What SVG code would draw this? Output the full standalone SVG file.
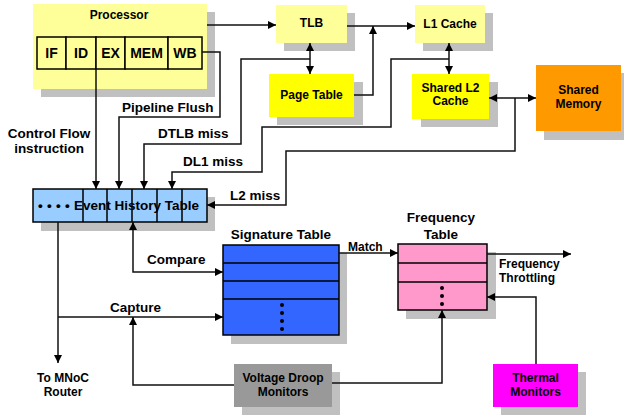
<svg xmlns="http://www.w3.org/2000/svg" width="624" height="417" viewBox="0 0 624 417">
<defs>
<marker id="ah" viewBox="0 0 10 10" refX="10" refY="5" markerWidth="9" markerHeight="8" markerUnits="userSpaceOnUse" orient="auto-start-reverse">
<path d="M0,0 L10,5 L0,10 z" fill="#000"/>
</marker>
<style>
text{font-family:"Liberation Sans",Arial,sans-serif;font-weight:bold;fill:#000}
.n{font-size:12px;text-anchor:middle}
.ns{font-size:12px}
.l{font-size:13.5px}
.lm{font-size:13.5px;text-anchor:middle}
.s{font-size:14px;text-anchor:middle}
.sh{fill:#c0c0c0}
.b{stroke:#000;stroke-width:1.5}
.c{fill:none;stroke:#111;stroke-width:1.5}
</style>
</defs>
<rect width="624" height="417" fill="#fff"/>

<g id="processor">
<rect class="sh" x="41" y="12" width="174" height="85"/>
<rect x="33" y="4" width="174" height="85" fill="#ffff99"/>
<text class="n" x="119" y="19">Processor</text>
<rect class="b" x="37" y="37" width="29" height="32" fill="#ffff99"/>
<rect class="b" x="66" y="37" width="30" height="32" fill="#ffff99"/>
<rect class="b" x="96" y="37" width="29" height="32" fill="#ffff99"/>
<rect class="b" x="125" y="37" width="43" height="32" fill="#ffff99"/>
<rect class="b" x="168" y="37" width="34" height="32" fill="#ffff99"/>
<text class="s" x="51.5" y="58">IF</text>
<text class="s" x="81" y="58">ID</text>
<text class="s" x="110.5" y="58">EX</text>
<text class="s" x="146.5" y="58">MEM</text>
<text class="s" x="185" y="58">WB</text>
</g>

<g id="tlb">
<rect class="sh" x="284" y="13" width="71" height="38"/>
<rect x="276" y="5" width="71" height="38" fill="#ffff99"/>
<text class="n" x="311.5" y="27">TLB</text>
</g>

<g id="l1">
<rect class="sh" x="423" y="13" width="70" height="38"/>
<rect x="415" y="5" width="70" height="38" fill="#ffff99"/>
<text class="n" x="450" y="28">L1 Cache</text>
</g>

<g id="pagetable">
<rect class="sh" x="277" y="82" width="86" height="43"/>
<rect x="269" y="74" width="85" height="43" fill="#ffff00"/>
<text class="n" x="311.5" y="99">Page Table</text>
</g>

<g id="l2">
<rect class="sh" x="421" y="82" width="77" height="45"/>
<rect x="412" y="74" width="77" height="45" fill="#ffff00"/>
<text class="n" x="450.5" y="92">Shared L2</text>
<text class="n" x="450.5" y="105">Cache</text>
</g>

<g id="memory">
<rect class="sh" x="544" y="73" width="85" height="67"/>
<rect x="536" y="65" width="85" height="66" fill="#ff9900"/>
<text class="n" x="578.5" y="94">Shared</text>
<text class="n" x="578.5" y="108">Memory</text>
</g>

<g id="eht">
<rect class="sh" x="41" y="197" width="174" height="34"/>
<rect class="b" x="33" y="189" width="174" height="33" fill="#99ccff"/>
<path class="b" d="M83,189V222M107,189V222M132,189V222M157,189V222M182,189V222" fill="none"/>
<text class="l" x="38" y="210"><tspan style="letter-spacing:4.3px">••••</tspan><tspan x="74">Event History Table</tspan></text>
</g>

<g id="signature">
<text class="lm" x="281" y="239">Signature Table</text>
<rect class="sh" x="231" y="253" width="116" height="91"/>
<rect class="b" x="223" y="245" width="116" height="90" fill="#3366ff"/>
<path class="b" d="M223,263H339M223,281H339M223,299H339" fill="none"/>
<circle cx="282" cy="305" r="2" fill="#000"/>
<circle cx="282" cy="313" r="2" fill="#000"/>
<circle cx="282" cy="321" r="2" fill="#000"/>
<circle cx="282" cy="329" r="2" fill="#000"/>
</g>

<g id="frequency">
<text class="lm" x="441" y="222">Frequency</text>
<text class="lm" x="441" y="239">Table</text>
<rect class="sh" x="406" y="252" width="90" height="67"/>
<rect class="b" x="398" y="244" width="89" height="66" fill="#ff99cc"/>
<path class="b" d="M398,263H487M398,282H487" fill="none"/>
<circle cx="442" cy="288" r="2" fill="#000"/>
<circle cx="442" cy="296" r="2" fill="#000"/>
<circle cx="442" cy="304" r="2" fill="#000"/>
</g>

<g id="voltage">
<rect class="sh" x="242" y="372" width="98" height="43"/>
<rect x="234" y="364" width="98" height="43" fill="#999999"/>
<text class="n" x="283" y="382">Voltage Droop</text>
<text class="n" x="283" y="396">Monitors</text>
</g>

<g id="thermal">
<rect class="sh" x="501" y="372" width="85" height="43"/>
<rect x="493" y="364" width="85" height="43" fill="#ff00ff"/>
<text class="n" x="535.5" y="382">Thermal</text>
<text class="n" x="535.5" y="396">Monitors</text>
</g>

<g id="labels">
<text class="l" x="122" y="112">Pipeline Flush</text>
<text class="lm" x="49" y="138">Control Flow</text>
<text class="lm" x="49" y="153">instruction</text>
<text class="l" x="158" y="138">DTLB miss</text>
<text class="l" x="183" y="166">DL1 miss</text>
<text class="l" x="230" y="200">L2 miss</text>
<text class="l" x="147" y="264">Compare</text>
<text class="l" x="110" y="312">Capture</text>
<text class="ns" x="348" y="251">Match</text>
<text class="ns" x="499" y="268">Frequency</text>
<text class="ns" x="499" y="282">Throttling</text>
<text class="n" x="63" y="382">To MNoC</text>
<text class="n" x="63" y="396">Router</text>
</g>

<g id="connectors">
<path class="c" d="M207,25H276" marker-end="url(#ah)"/>
<path class="c" d="M347,26H415" marker-end="url(#ah)"/>
<path class="c" d="M354,95H373V26" marker-end="url(#ah)"/>
<path class="c" d="M310,43V74" marker-start="url(#ah)" marker-end="url(#ah)"/>
<path class="c" d="M449,43V74" marker-start="url(#ah)" marker-end="url(#ah)"/>
<path class="c" d="M489,98H536" marker-start="url(#ah)" marker-end="url(#ah)"/>
<path class="c" d="M96,69V189" marker-end="url(#ah)"/>
<path class="c" d="M202,52H220V117H119V189" marker-end="url(#ah)"/>
<path class="c" d="M310,59H241V144H144V189" marker-end="url(#ah)"/>
<path class="c" d="M449,59H391V127H262V172H172V189" marker-end="url(#ah)"/>
<path class="c" d="M515,98V151H286V205H207" marker-end="url(#ah)"/>
<path class="c" d="M58,222V363" marker-end="url(#ah)"/>
<path class="c" d="M58,317H223" marker-end="url(#ah)"/>
<path class="c" d="M133,222V272H223" marker-start="url(#ah)" marker-end="url(#ah)"/>
<path class="c" d="M234,385H133V317" marker-end="url(#ah)"/>
<path class="c" d="M339,253H398" marker-end="url(#ah)"/>
<path class="c" d="M487,254H571" marker-end="url(#ah)"/>
<path class="c" d="M332,383H442V310" marker-end="url(#ah)"/>
<path class="c" d="M536,364V297H487" marker-end="url(#ah)"/>
</g>
</svg>
